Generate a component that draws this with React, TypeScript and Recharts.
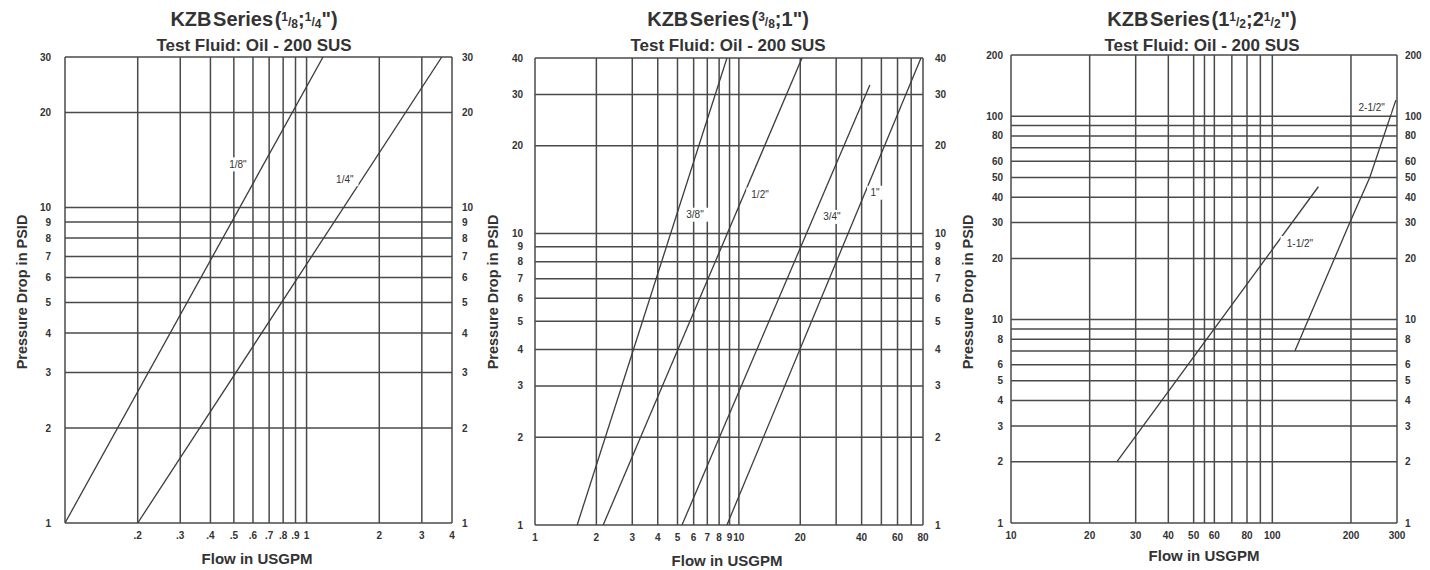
import React from "react"
import { LineChart, Line, XAxis, YAxis, ReferenceLine, ReferenceDot } from "recharts"

// ---- left chart: 1/8" and 1/4"
const xTicksA = [0.2, 0.3, 0.4, 0.5, 0.6, 0.7, 0.8, 0.9, 1, 2, 3, 4]
const xGridA = [0.1, 0.2, 0.3, 0.4, 0.5, 0.6, 0.7, 0.8, 0.9, 1, 2, 3, 4]
const yTicksA = [1, 2, 3, 4, 5, 6, 7, 8, 9, 10, 20, 30]
const flow18 = [0.1, 1.17]
const psid18 = [1, 30]
const flow14 = [0.2, 3.63]
const psid14 = [1, 30]

// ---- middle chart: 3/8" .. 1"
const xTicksB = [1, 2, 3, 4, 5, 6, 7, 8, 9, 10, 20, 40, 60, 80]
const xGridB = [1, 2, 3, 4, 5, 6, 7, 8, 9, 10, 20, 30, 40, 50, 60, 70, 80]
const yTicksB = [1, 2, 3, 4, 5, 6, 7, 8, 9, 10, 20, 30, 40]
const flow38 = [1.61, 8.74]
const psid38 = [1, 40]
const flow12 = [2.16, 20.4]
const psid12 = [1, 40]
const flow34 = [5.26, 43.9]
const psid34 = [1, 32.3]
const flow1 = [8.74, 78.2]
const psid1 = [1, 40]

// ---- right chart: 1-1/2" and 2-1/2"
const xTicksC = [10, 20, 30, 40, 50, 60, 80, 100, 200, 300]
const xGridC = [10, 20, 30, 40, 50, 55, 60, 70, 80, 90, 100, 200, 300]
const yTicksC = [1, 2, 3, 4, 5, 6, 8, 10, 20, 30, 40, 50, 60, 80, 100, 200]
const yGridC = [1, 2, 3, 4, 5, 6, 7, 8, 9, 10, 20, 30, 40, 50, 60, 70, 80, 90, 100, 200]
const flow112 = [25.4, 150]
const psid112 = [2, 45]
const flow212 = [122, 198, 236, 297]
const psid212 = [7, 30, 50, 120]

const FONT = "'Liberation Sans', Arial, Helvetica, sans-serif"
const INK = "#333"
const GRID = "#4a4a4a"

type Series = { name: string; q: number[]; p: number[]; at: [number, number] }

type PanelProps = {
  left: number
  width: number
  plot: { l: number; r: number; t: number; b: number }
  xDomain: [number, number]
  yDomain: [number, number]
  xTicks: number[]
  xGrid: number[]
  yTicks: number[]
  yGrid: number[]
  tickGap: [number, number]
  fontSize: number
  series: Series[]
  fmtX?: (v: number) => string
}

function SeriesTag(props: any) {
  const { cx, cy, text } = props
  const w = text.length * 5.8 + 4
  return (
    <g>
      <rect x={cx - w / 2} y={cy - 7} width={w} height={14} fill="#fff" />
      <text x={cx} y={cy} dy="0.35em" textAnchor="middle" fontSize={10} fontFamily={FONT} fill={INK}>
        {text}
      </text>
    </g>
  )
}

function Panel(p: PanelProps) {
  const { plot } = p
  const tick = { fontSize: p.fontSize, fill: INK, fontFamily: FONT, fontWeight: "bold" as const }
  return (
    <div style={{ position: "absolute", left: p.left, top: 0 }}>
      <LineChart
        width={p.width}
        height={570}
        margin={{
          top: plot.t,
          bottom: 570 - plot.b - 20,
          left: plot.l - p.left - 30,
          right: p.left + p.width - plot.r - 26,
        }}
      >
        <XAxis
          xAxisId="x"
          type="number"
          dataKey="q"
          scale="log"
          domain={p.xDomain}
          allowDataOverflow
          ticks={p.xTicks}
          interval={0}
          tickFormatter={p.fmtX ?? ((v: number) => String(v))}
          tickLine={false}
          axisLine={false}
          tickSize={0}
          tickMargin={9}
          height={20}
          tick={tick}
        />
        <YAxis
          yAxisId="l"
          type="number"
          scale="log"
          domain={p.yDomain}
          allowDataOverflow
          ticks={p.yTicks}
          interval={0}
          width={30}
          tickLine={false}
          axisLine={false}
          tickSize={0}
          tickMargin={p.tickGap[0]}
          tick={tick}
        />
        <YAxis
          yAxisId="r"
          orientation="right"
          type="number"
          scale="log"
          domain={p.yDomain}
          allowDataOverflow
          ticks={p.yTicks}
          interval={0}
          width={26}
          tickLine={false}
          axisLine={false}
          tickSize={0}
          tickMargin={p.tickGap[1]}
          tick={{ ...tick, textAnchor: "start" }}
        />
        {p.xGrid.map((v) => (
          <ReferenceLine key={"vx" + v} x={v} xAxisId="x" yAxisId="l" stroke={GRID} strokeWidth={1.5} ifOverflow="visible" />
        ))}
        {p.yGrid.map((v) => (
          <ReferenceLine key={"hy" + v} y={v} xAxisId="x" yAxisId="l" stroke={GRID} strokeWidth={1.5} ifOverflow="visible" />
        ))}
        {p.series.map((s) => (
          <ReferenceDot
            key={"tag" + s.name}
            x={s.at[0]}
            y={s.at[1]}
            xAxisId="x"
            yAxisId="l"
            ifOverflow="visible"
            shape={(sp: any) => <SeriesTag {...sp} text={s.name} />}
          />
        ))}
        {p.series.map((s) => (
          <Line
            key={s.name}
            xAxisId="x"
            yAxisId="l"
            data={s.q.map((q, i) => ({ q, p: s.p[i] }))}
            dataKey="p"
            type="linear"
            stroke="#3c3c3c"
            strokeWidth={1.3}
            dot={false}
            isAnimationActive={false}
          />
        ))}
      </LineChart>
    </div>
  )
}

function Heading({ cx, children }: { cx: number; children: React.ReactNode }) {
  return (
    <div style={{ position: "absolute", left: cx - 200, width: 400, top: 6, textAlign: "center", fontFamily: FONT, fontWeight: "bold", color: INK }}>
      <div style={{ fontSize: 20, lineHeight: "23px", wordSpacing: -4 }}>{children}</div>
      <div style={{ fontSize: 17, lineHeight: "20px" }}>Test Fluid: Oil - 200 SUS</div>
    </div>
  )
}

function Frac({ a, b }: { a: string; b: string }) {
  return (
    <span style={{ fontSize: 12 }}>
      <span style={{ verticalAlign: "5px" }}>{a}</span>/<span style={{ verticalAlign: "-2px" }}>{b}</span>
    </span>
  )
}

function YTitle({ cx }: { cx: number }) {
  return (
    <div
      style={{
        position: "absolute", left: cx, top: 292, transform: "translate(-50%, -50%) rotate(-90deg)",
        whiteSpace: "nowrap", fontFamily: FONT, fontWeight: "bold", fontSize: 14.5, color: INK,
      }}
    >
      Pressure Drop in PSID
    </div>
  )
}

function XTitle({ cx, cy }: { cx: number; cy: number }) {
  return (
    <div
      style={{
        position: "absolute", left: cx, top: cy, transform: "translate(-50%, -50%)",
        whiteSpace: "nowrap", fontFamily: FONT, fontWeight: "bold", fontSize: 15, color: INK,
      }}
    >
      Flow in USGPM
    </div>
  )
}

export default function App() {
  return (
    <div style={{ position: "absolute", left: 0, top: 0, width: 1430, height: 570, background: "#fff", overflow: "hidden" }}>
      <Panel
        left={0}
        width={480}
        plot={{ l: 65, r: 452, t: 57, b: 523 }}
        xDomain={[0.1, 4]}
        yDomain={[1, 30]}
        xTicks={xTicksA}
        xGrid={xGridA}
        yTicks={yTicksA}
        yGrid={yTicksA}
        tickGap={[14, 10]}
        fontSize={10}
        fmtX={(v) => (v < 1 ? String(v).replace(/^0/, "") : String(v))}
        series={[
          { name: '1/8"', q: flow18, p: psid18, at: [0.52, 13.7] },
          { name: '1/4"', q: flow14, p: psid14, at: [1.44, 12.3] },
        ]}
      />
      <Panel
        left={480}
        width={480}
        plot={{ l: 535, r: 923, t: 58, b: 525 }}
        xDomain={[1, 80]}
        yDomain={[1, 40]}
        xTicks={xTicksB}
        xGrid={xGridB}
        yTicks={yTicksB}
        yGrid={yTicksB}
        tickGap={[12, 12]}
        fontSize={10}
        series={[
          { name: '3/8"', q: flow38, p: psid38, at: [6.09, 11.6] },
          { name: '1/2"', q: flow12, p: psid12, at: [12.7, 13.6] },
          { name: '3/4"', q: flow34, p: psid34, at: [28.6, 11.4] },
          { name: '1"', q: flow1, p: psid1, at: [46.5, 13.8] },
        ]}
      />
      <Panel
        left={960}
        width={470}
        plot={{ l: 1011, r: 1397, t: 55, b: 523 }}
        xDomain={[10, 300]}
        yDomain={[1, 200]}
        xTicks={xTicksC}
        xGrid={xGridC}
        yTicks={yTicksC}
        yGrid={yGridC}
        tickGap={[8, 8]}
        fontSize={10}
        series={[
          { name: '1-1/2"', q: flow112, p: psid112, at: [127.6, 23.8] },
          { name: '2-1/2"', q: flow212, p: psid212, at: [240, 111] },
        ]}
      />

      <Heading cx={254}>
        KZB Series (<Frac a="1" b="8" />;<Frac a="1" b="4" />")
      </Heading>
      <Heading cx={728}>
        KZB Series (<Frac a="3" b="8" />;1")
      </Heading>
      <Heading cx={1202}>
        KZB Series (1<Frac a="1" b="2" />;2<Frac a="1" b="2" />")
      </Heading>

      <YTitle cx={22} />
      <YTitle cx={493} />
      <YTitle cx={968} />
      <XTitle cx={257} cy={558} />
      <XTitle cx={727} cy={560} />
      <XTitle cx={1204} cy={555} />
    </div>
  )
}
